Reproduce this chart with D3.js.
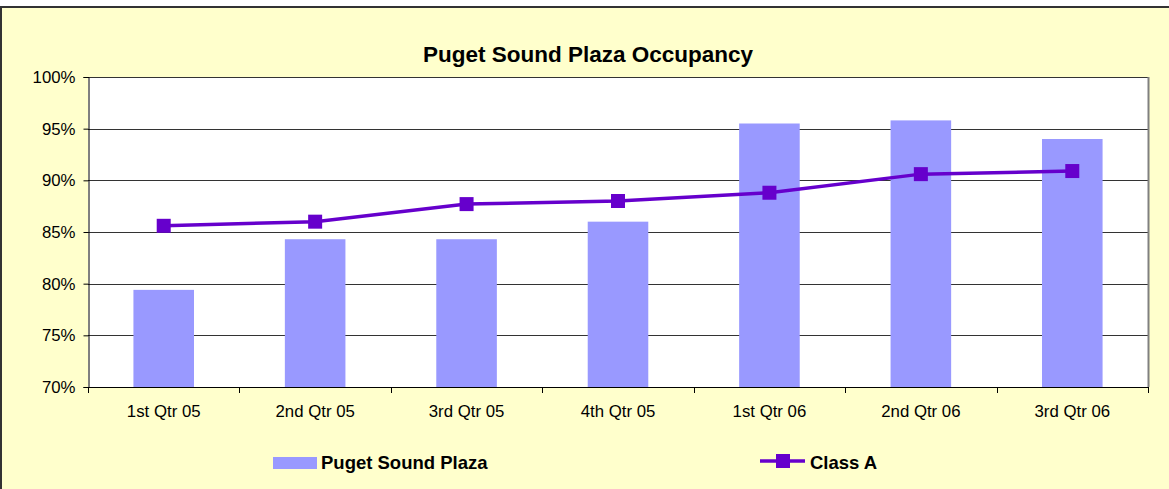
<!DOCTYPE html>
<html>
<head>
<meta charset="utf-8">
<script src="https://cdn.jsdelivr.net/npm/d3@7"></script>
<style>
  html, body { margin: 0; padding: 0; background: #fff; }
  svg { display: block; font-family: Arial, "Liberation Sans", sans-serif; }
</style>
</head>
<body>
<div id="chart"></div>
<script>
// Chart data
const quarters = ['1st Qtr 05', '2nd Qtr 05', '3rd Qtr 05', '4th Qtr 05', '1st Qtr 06', '2nd Qtr 06', '3rd Qtr 06'];
const pugetSound = [79.4, 84.3, 84.3, 86.0, 95.5, 95.8, 94.0];
const classA = [85.6, 86.0, 87.7, 88.0, 88.8, 90.6, 90.9];
const yTicks = [70, 75, 80, 85, 90, 95, 100];

const width = 1169, height = 489;
const plot = { left: 88, top: 77, right: 1148, bottom: 387 };

const svg = d3.select('#chart')
    .append('svg')
    .attr('width', width)
    .attr('height', height);

// Chart area frame (cut off at right and bottom)
svg.append('rect')
    .attr('x', 1).attr('y', 7)
    .attr('width', width + 10).attr('height', height + 10)
    .attr('fill', '#FFFFCC')
    .attr('stroke', '#333')
    .attr('stroke-width', 2);

// Title
svg.append('text')
    .attr('x', 588).attr('y', 62)
    .attr('text-anchor', 'middle')
    .style('font-size', '22.5px')
    .style('font-weight', 'bold')
    .text('Puget Sound Plaza Occupancy');

// Scales
const x = d3.scaleBand()
    .domain(quarters)
    .range([plot.left, plot.right])
    .paddingInner(0.6)
    .paddingOuter(0.3);

const y = d3.scaleLinear()
    .domain([70, 100])
    .range([plot.bottom, plot.top]);

// Plot area
svg.append('rect')
    .attr('x', plot.left).attr('y', plot.top)
    .attr('width', plot.right - plot.left).attr('height', plot.bottom - plot.top)
    .attr('fill', '#fff');

// Gridlines
svg.append('g')
    .selectAll('line')
    .data(yTicks)
    .enter().append('line')
    .attr('x1', plot.left).attr('x2', plot.right)
    .attr('y1', d => Math.round(y(d)) + 0.5)
    .attr('y2', d => Math.round(y(d)) + 0.5)
    .attr('stroke', '#333')
    .attr('stroke-width', 1);

// Right border of plot area
svg.append('line')
    .attr('x1', plot.right + 0.5).attr('x2', plot.right + 0.5)
    .attr('y1', plot.top).attr('y2', plot.bottom)
    .attr('stroke', '#808080')
    .attr('stroke-width', 2);

// Bars
svg.append('g')
    .selectAll('rect')
    .data(pugetSound)
    .enter().append('rect')
    .attr('x', (d, i) => x(quarters[i]))
    .attr('y', d => y(d))
    .attr('width', x.bandwidth())
    .attr('height', d => y(70) - y(d))
    .attr('fill', '#9999FF');

// Y axis
const yAxis = svg.append('g')
    .attr('transform', `translate(${plot.left + 0.5},0)`)
    .call(d3.axisLeft(y).tickValues(yTicks).tickSize(5).tickPadding(8).tickFormat(d => d + '%'));
yAxis.select('.domain').attr('stroke', '#000');
yAxis.selectAll('.tick line').attr('stroke', '#000');
yAxis.selectAll('.tick text')
    .attr('fill', '#000')
    .style('font-size', '16.8px')
    .style('font-family', 'Arial, "Liberation Sans", sans-serif');

// X axis with ticks between categories
const xAxis = svg.append('g')
    .attr('transform', `translate(0,${plot.bottom + 0.5})`)
    .call(d3.axisBottom(x).tickSize(0).tickPadding(18));
xAxis.select('.domain').attr('stroke', '#000').attr('d', `M${plot.left},0H${plot.right}`);
xAxis.selectAll('.tick text')
    .attr('fill', '#000')
    .style('font-size', '16.8px')
    .style('font-family', 'Arial, "Liberation Sans", sans-serif');

const step = x.step();
const dividers = d3.range(quarters.length + 1).map(i => plot.left + i * step);
svg.append('g')
    .selectAll('line')
    .data(dividers)
    .enter().append('line')
    .attr('x1', d => Math.round(d) + 0.5).attr('x2', d => Math.round(d) + 0.5)
    .attr('y1', plot.bottom).attr('y2', plot.bottom + 6)
    .attr('stroke', '#000');

// Class A line
const line = d3.line()
    .x((d, i) => x(quarters[i]) + x.bandwidth() / 2)
    .y(d => y(d));

svg.append('path')
    .datum(classA)
    .attr('d', line)
    .attr('fill', 'none')
    .attr('stroke', '#6600CC')
    .attr('stroke-width', 3.5);

svg.append('g')
    .selectAll('rect')
    .data(classA)
    .enter().append('rect')
    .attr('x', (d, i) => x(quarters[i]) + x.bandwidth() / 2 - 7)
    .attr('y', d => y(d) - 7)
    .attr('width', 14).attr('height', 14)
    .attr('fill', '#6600CC');

// Legend
const legend = svg.append('g');
legend.append('rect')
    .attr('x', 273).attr('y', 457)
    .attr('width', 44).attr('height', 12)
    .attr('fill', '#9999FF');
legend.append('text')
    .attr('x', 321).attr('y', 469)
    .style('font-size', '18.5px')
    .style('font-weight', 'bold')
    .text('Puget Sound Plaza');

legend.append('line')
    .attr('x1', 760).attr('x2', 805)
    .attr('y1', 461).attr('y2', 461)
    .attr('stroke', '#6600CC')
    .attr('stroke-width', 3.5);
legend.append('rect')
    .attr('x', 776).attr('y', 454)
    .attr('width', 14).attr('height', 14)
    .attr('fill', '#6600CC');
legend.append('text')
    .attr('x', 810).attr('y', 469)
    .style('font-size', '18.5px')
    .style('font-weight', 'bold')
    .text('Class A');
</script>
</body>
</html>
